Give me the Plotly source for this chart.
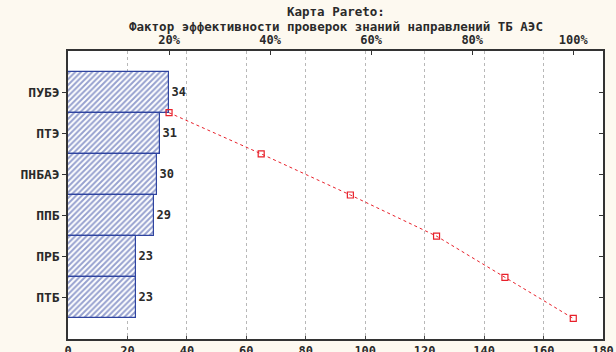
import plotly.graph_objects as go

categories = ["ПУБЭ", "ПТЭ", "ПНБАЭ", "ППБ", "ПРБ", "ПТБ"]
counts = [34, 31, 30, 29, 23, 23]
cumulative = [34, 65, 95, 124, 147, 170]
pct_labels = ["20%", "40%", "60%", "80%", "100%"]
pct_values = [0.2, 0.4, 0.6, 0.8, 1.0]
x_ticks = [0, 20, 40, 60, 80, 100, 120, 140, 160, 180]
title_line1 = "Карта Pareto:"
title_line2 = "Фактор эффективности проверок знаний направлений ТБ АЭС"

n = len(categories)
ypos = [n - 1 - i for i in range(n)]            # top to bottom
ycum = [p - 0.5 for p in ypos]                    # lower bar edges
total = cumulative[-1]

FONT = dict(family="DejaVu Sans Mono", size=12, color="#2a2a2a", weight="bold")
TFONT = dict(family="DejaVu Sans Mono", size=12.5, color="#2a2a2a", weight="bold")
LFONT = dict(family="DejaVu Sans Mono", size=13, color="#2a2a2a", weight="bold")
BLUE = "#2f44a0"
RED = "#e8202a"
BG = "#fdf9f0"

fig = go.Figure()
fig.add_trace(go.Bar(
    x=counts, y=ypos, orientation="h", width=1,
    marker=dict(color="white", line=dict(color=BLUE, width=1.2),
                pattern=dict(shape="/", fgcolor=BLUE, bgcolor="white", size=4, solidity=0.5)),
    text=[str(c) for c in counts], textposition="outside", cliponaxis=False,
    textfont=FONT, showlegend=False,
))
fig.add_trace(go.Scatter(
    x=cumulative, y=ycum, xaxis="x2", yaxis="y2", mode="lines+markers",
    line=dict(color=RED, width=1, dash="dot"),
    marker=dict(symbol="square-open", size=6, color=RED, line=dict(width=1.2, color=RED)),
    showlegend=False, cliponaxis=False,
))

fig.update_layout(
    width=616, height=352,
    margin=dict(l=68, r=13, t=51, b=13),
    paper_bgcolor=BG, plot_bgcolor="white",
    font=FONT,
    bargap=0,
    xaxis=dict(range=[0, 180], tickvals=x_ticks, ticks="inside", ticklen=3,
               showgrid=True, gridcolor="#b8b8b8", griddash="dot", gridwidth=1,
               showline=True, linecolor="#333333", linewidth=1.5, zeroline=False,
               tickfont=FONT, automargin=False),
    xaxis2=dict(range=[0, 180], overlaying="x", side="top",
                tickvals=[p * total for p in pct_values], ticktext=pct_labels,
                ticks="inside", ticklen=4, tickcolor="#333333", showgrid=False,
                showline=True, linecolor="#333333", linewidth=1.5, zeroline=False,
                tickfont=FONT, automargin=False),
    yaxis=dict(range=[-1, 6], tickvals=ypos, ticktext=categories, ticks="outside",
               ticklen=4, tickcolor="#333333", showgrid=False, zeroline=False,
               showline=True, linecolor="#333333", linewidth=1.5, tickfont=LFONT,
               automargin=False),
    yaxis2=dict(range=[-1, 6], overlaying="y", side="right", tickvals=ypos,
                showticklabels=False, ticks="inside", ticklen=4, tickcolor="#333333",
                showgrid=False, zeroline=False, showline=True, linecolor="#333333",
                linewidth=1.5, automargin=False),
    annotations=[
        dict(text=title_line1, x=0.5, y=1, xref="paper", yref="paper",
             xanchor="center", yanchor="middle", yshift=40, showarrow=False, font=TFONT),
        dict(text=title_line2, x=0.5, y=1, xref="paper", yref="paper",
             xanchor="center", yanchor="middle", yshift=25, showarrow=False, font=TFONT),
    ],
)

fig.write_html(
    "out.html",
    config={"displayModeBar": False},
    post_script="document.body.style.margin='0';document.body.style.overflow='hidden';"
                "document.body.style.background='" + BG + "';",
)
